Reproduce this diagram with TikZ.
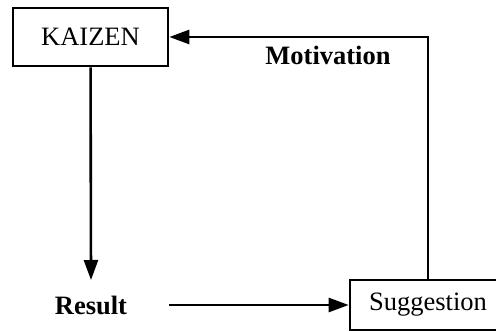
\documentclass[tikz,border=0pt]{standalone}
\usepackage{fontspec}
\setmainfont{Liberation Serif}
\usepackage{tikz}
\usetikzlibrary{arrows.meta, positioning}

\begin{document}
\begin{tikzpicture}[x=1pt, y=-1pt, line width=2.6pt,
  >={Triangle[length=20pt, width=14pt]},
  box/.style={draw, inner sep=0pt, font=\fontsize{26.5}{30}\selectfont},
  lbl/.style={inner sep=0pt, font=\fontsize{26.5}{30}\selectfont\bfseries}]
  \useasboundingbox (0,0) rectangle (496,331);
  % \draw[gray!40, line width=0.5pt] (0,0) rectangle (496,331);
  \node[box, minimum width=155pt, minimum height=58pt] (kaizen) at (90.5,37) {KAIZEN};
  \node[box, minimum width=156pt, minimum height=50pt] (sugg) at (428,305) {Suggestion};
  \node[lbl] (result) at (91,305) {Result};
  \node[lbl] (motiv) at (328,55) {Motivation};
  \draw[->] (kaizen) -- (result.north |- 0,280);
  \draw[->, shorten <=41pt] (result) -- (sugg);
  \draw[->] (sugg.north) |- (kaizen.east);
\end{tikzpicture}
\end{document}
